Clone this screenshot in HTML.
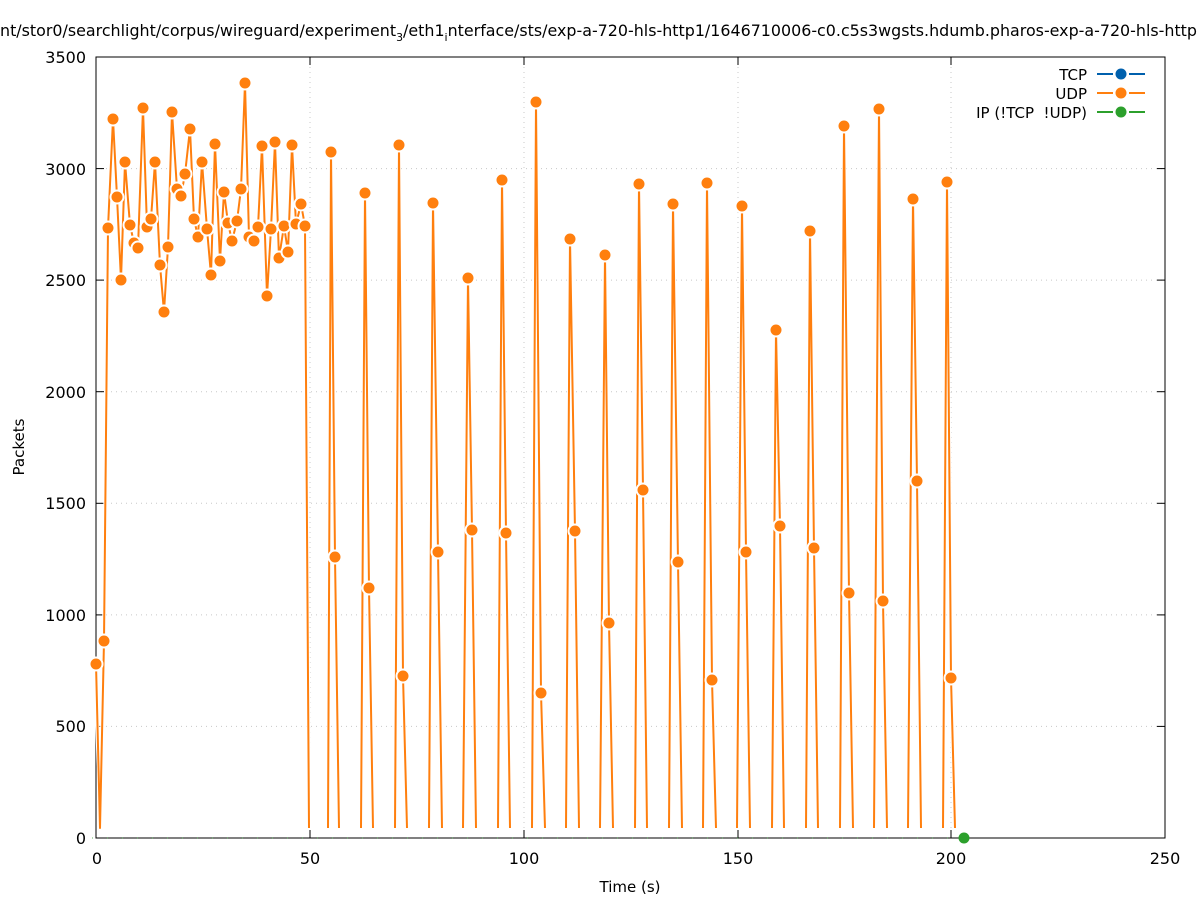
<!DOCTYPE html>
<html><head><meta charset="utf-8"><style>
html,body{margin:0;padding:0;background:#fff;}
svg{display:block;font-family:"DejaVu Sans","Liberation Sans",sans-serif;}
</style></head><body>
<svg width="1197" height="900" viewBox="0 0 1197 900" xmlns="http://www.w3.org/2000/svg">
<rect width="1197" height="900" fill="#fff"/>
<text x="0" y="36" font-size="16" textLength="1197" lengthAdjust="spacingAndGlyphs">nt/stor0/searchlight/corpus/wireguard/experiment<tspan font-size="11" dy="5">3</tspan><tspan dy="-5">/eth1</tspan><tspan font-size="11" dy="5">i</tspan><tspan dy="-5">nterface/sts/exp-a-720-hls-http1/1646710006-c0.c5s3wgsts.hdumb.pharos-exp-a-720-hls-http</tspan></text>
<g stroke="#c8c8c8" stroke-width="1" stroke-dasharray="1 4">
<line x1="96" y1="726.4" x2="1165" y2="726.4"/><line x1="96" y1="614.9" x2="1165" y2="614.9"/>
<line x1="96" y1="503.3" x2="1165" y2="503.3"/><line x1="96" y1="391.7" x2="1165" y2="391.7"/>
<line x1="96" y1="280.1" x2="1165" y2="280.1"/><line x1="96" y1="168.6" x2="1165" y2="168.6"/>
<line x1="310" y1="57" x2="310" y2="838"/><line x1="524" y1="57" x2="524" y2="838"/>
<line x1="738" y1="57" x2="738" y2="838"/><line x1="951" y1="57" x2="951" y2="838"/>
</g>
<rect x="96" y="57" width="1069" height="781" fill="none" stroke="#000" stroke-width="1"/>
<g stroke="#000" stroke-width="1">
<line x1="96" y1="726.4" x2="104" y2="726.4"/><line x1="1165" y1="726.4" x2="1157" y2="726.4"/>
<line x1="96" y1="614.9" x2="104" y2="614.9"/><line x1="1165" y1="614.9" x2="1157" y2="614.9"/>
<line x1="96" y1="503.3" x2="104" y2="503.3"/><line x1="1165" y1="503.3" x2="1157" y2="503.3"/>
<line x1="96" y1="391.7" x2="104" y2="391.7"/><line x1="1165" y1="391.7" x2="1157" y2="391.7"/>
<line x1="96" y1="280.1" x2="104" y2="280.1"/><line x1="1165" y1="280.1" x2="1157" y2="280.1"/>
<line x1="96" y1="168.6" x2="104" y2="168.6"/><line x1="1165" y1="168.6" x2="1157" y2="168.6"/>
<line x1="310" y1="838" x2="310" y2="830"/><line x1="310" y1="57" x2="310" y2="65"/>
<line x1="524" y1="838" x2="524" y2="830"/><line x1="524" y1="57" x2="524" y2="65"/>
<line x1="738" y1="838" x2="738" y2="830"/><line x1="738" y1="57" x2="738" y2="65"/>
<line x1="951" y1="838" x2="951" y2="830"/><line x1="951" y1="57" x2="951" y2="65"/>
</g>
<g font-size="16" text-anchor="end">
<text x="86" y="844">0</text><text x="86" y="732">500</text><text x="86" y="621">1000</text>
<text x="86" y="509">1500</text><text x="86" y="398">2000</text><text x="86" y="286">2500</text>
<text x="86" y="175">3000</text><text x="86" y="63">3500</text>
</g>
<g font-size="16" text-anchor="middle">
<text x="97" y="864">0</text><text x="310" y="864">50</text><text x="524" y="864">100</text>
<text x="738" y="864">150</text><text x="951" y="864">200</text><text x="1165" y="864">250</text>
<text x="630" y="892" font-size="15">Time (s)</text>
<text x="24" y="447" font-size="15" transform="rotate(-90 24 447)">Packets</text>
</g>
<line x1="92" y1="838" x2="960" y2="838" stroke="#2ca02c" stroke-width="1.2" stroke-dasharray="1 14" opacity="0.6"/>
<g fill="none" stroke="#fff" stroke-width="4" stroke-linejoin="round">
<g id="lines">
<polyline points="96,664 100,828 104,641 108,228 113,119 117,197 121,280 125,162 130,225 134,243 138,248 143,108 147,227 151,219 155,162 160,265 164,312 168,247 172,112 177,189 181,196 185,174 190,129 194,219 198,237 202,162 207,229 211,275 215,144 220,261 224,192 228,223 232,241 237,221 241,189 245,83 249,237 254,241 258,227 262,146 267,296 271,229 275,142 279,258 284,226 288,252 292,145 296,224 301,204 305,226 309,828"/>
<polyline points="328,828 331,152 335,557 339,828"/>
<polyline points="361,828 365,193 369,588 373,828"/>
<polyline points="395,828 399,145 403,676 407,828"/>
<polyline points="429,828 433,203 438,552 442,828"/>
<polyline points="463,828 468,278 472,530 476,828"/>
<polyline points="498,828 502,180 506,533 510,828"/>
<polyline points="532,828 536,102 541,693 545,828"/>
<polyline points="566,828 570,239 575,531 579,828"/>
<polyline points="600,828 605,255 609,623 613,828"/>
<polyline points="635,828 639,184 643,490 647,828"/>
<polyline points="669,828 673,204 678,562 682,828"/>
<polyline points="703,828 707,183 712,680 716,828"/>
<polyline points="737,828 742,206 746,552 750,828"/>
<polyline points="772,828 776,330 780,526 784,828"/>
<polyline points="806,828 810,231 814,548 818,828"/>
<polyline points="840,828 844,126 849,593 853,828"/>
<polyline points="874,828 879,109 883,601 887,828"/>
<polyline points="908,828 913,199 917,481 921,828"/>
<polyline points="943,828 947,182 951,678 955,828"/>
</g>
</g>
<g fill="none" stroke="#ff7f0e" stroke-width="2" stroke-linejoin="round">
<use href="#lines" stroke="#ff7f0e" stroke-width="2"/>
</g>
<g fill="#ff7f0e" stroke="#fff" stroke-width="2">
<circle cx="96" cy="664" r="6.5"/><circle cx="104" cy="641" r="6.5"/><circle cx="108" cy="228" r="6.5"/><circle cx="113" cy="119" r="6.5"/><circle cx="117" cy="197" r="6.5"/><circle cx="121" cy="280" r="6.5"/><circle cx="125" cy="162" r="6.5"/><circle cx="130" cy="225" r="6.5"/><circle cx="134" cy="243" r="6.5"/><circle cx="138" cy="248" r="6.5"/><circle cx="143" cy="108" r="6.5"/><circle cx="147" cy="227" r="6.5"/><circle cx="151" cy="219" r="6.5"/><circle cx="155" cy="162" r="6.5"/><circle cx="160" cy="265" r="6.5"/><circle cx="164" cy="312" r="6.5"/><circle cx="168" cy="247" r="6.5"/><circle cx="172" cy="112" r="6.5"/><circle cx="177" cy="189" r="6.5"/><circle cx="181" cy="196" r="6.5"/><circle cx="185" cy="174" r="6.5"/><circle cx="190" cy="129" r="6.5"/><circle cx="194" cy="219" r="6.5"/><circle cx="198" cy="237" r="6.5"/><circle cx="202" cy="162" r="6.5"/><circle cx="207" cy="229" r="6.5"/><circle cx="211" cy="275" r="6.5"/><circle cx="215" cy="144" r="6.5"/><circle cx="220" cy="261" r="6.5"/><circle cx="224" cy="192" r="6.5"/><circle cx="228" cy="223" r="6.5"/><circle cx="232" cy="241" r="6.5"/><circle cx="237" cy="221" r="6.5"/><circle cx="241" cy="189" r="6.5"/><circle cx="245" cy="83" r="6.5"/><circle cx="249" cy="237" r="6.5"/><circle cx="254" cy="241" r="6.5"/><circle cx="258" cy="227" r="6.5"/><circle cx="262" cy="146" r="6.5"/><circle cx="267" cy="296" r="6.5"/><circle cx="271" cy="229" r="6.5"/><circle cx="275" cy="142" r="6.5"/><circle cx="279" cy="258" r="6.5"/><circle cx="284" cy="226" r="6.5"/><circle cx="288" cy="252" r="6.5"/><circle cx="292" cy="145" r="6.5"/><circle cx="296" cy="224" r="6.5"/><circle cx="301" cy="204" r="6.5"/><circle cx="305" cy="226" r="6.5"/>
<circle cx="331" cy="152" r="6.5"/><circle cx="335" cy="557" r="6.5"/>
<circle cx="365" cy="193" r="6.5"/><circle cx="369" cy="588" r="6.5"/>
<circle cx="399" cy="145" r="6.5"/><circle cx="403" cy="676" r="6.5"/>
<circle cx="433" cy="203" r="6.5"/><circle cx="438" cy="552" r="6.5"/>
<circle cx="468" cy="278" r="6.5"/><circle cx="472" cy="530" r="6.5"/>
<circle cx="502" cy="180" r="6.5"/><circle cx="506" cy="533" r="6.5"/>
<circle cx="536" cy="102" r="6.5"/><circle cx="541" cy="693" r="6.5"/>
<circle cx="570" cy="239" r="6.5"/><circle cx="575" cy="531" r="6.5"/>
<circle cx="605" cy="255" r="6.5"/><circle cx="609" cy="623" r="6.5"/>
<circle cx="639" cy="184" r="6.5"/><circle cx="643" cy="490" r="6.5"/>
<circle cx="673" cy="204" r="6.5"/><circle cx="678" cy="562" r="6.5"/>
<circle cx="707" cy="183" r="6.5"/><circle cx="712" cy="680" r="6.5"/>
<circle cx="742" cy="206" r="6.5"/><circle cx="746" cy="552" r="6.5"/>
<circle cx="776" cy="330" r="6.5"/><circle cx="780" cy="526" r="6.5"/>
<circle cx="810" cy="231" r="6.5"/><circle cx="814" cy="548" r="6.5"/>
<circle cx="844" cy="126" r="6.5"/><circle cx="849" cy="593" r="6.5"/>
<circle cx="879" cy="109" r="6.5"/><circle cx="883" cy="601" r="6.5"/>
<circle cx="913" cy="199" r="6.5"/><circle cx="917" cy="481" r="6.5"/>
<circle cx="947" cy="182" r="6.5"/><circle cx="951" cy="678" r="6.5"/>
</g>
<circle cx="964" cy="838" r="5.5" fill="#2ca02c"/>
<g font-size="15" text-anchor="end">
<text x="1087" y="80">TCP</text><text x="1087" y="99">UDP</text><text x="1087" y="118">IP (!TCP&#160;&#160;!UDP)</text>
</g>
<g stroke-width="2">
<line x1="1097" y1="74" x2="1145" y2="74" stroke="#0060ad" stroke-dasharray="16 16"/>
<line x1="1097" y1="93" x2="1145" y2="93" stroke="#ff7f0e" stroke-dasharray="16 16"/>
<line x1="1097" y1="112" x2="1145" y2="112" stroke="#2ca02c" stroke-dasharray="16 16"/>
</g>
<circle cx="1121" cy="74" r="5.5" fill="#0060ad"/>
<circle cx="1121" cy="93" r="5.5" fill="#ff7f0e"/>
<circle cx="1121" cy="112" r="5.5" fill="#2ca02c"/>
</svg>
</body></html>
